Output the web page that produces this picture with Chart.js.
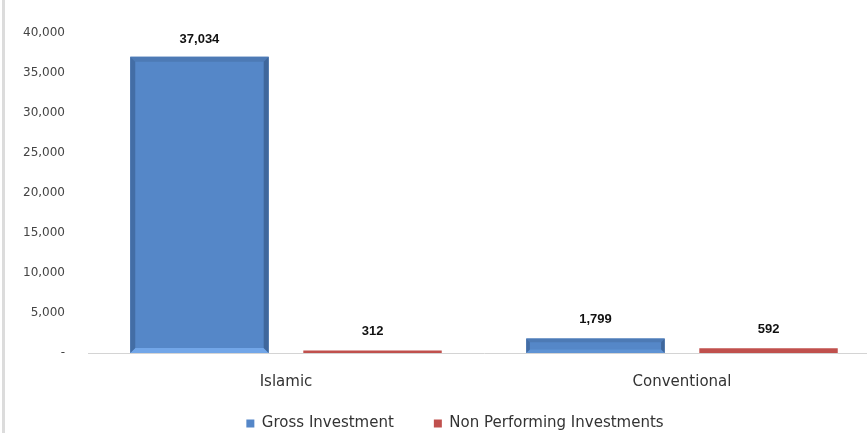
<!DOCTYPE html>
<html>
<head>
<meta charset="utf-8">
<script src="https://cdn.jsdelivr.net/npm/chart.js@4.4.1/dist/chart.umd.min.js"></script>
<style>
  html, body { margin: 0; padding: 0; background: #fff; overflow: hidden; width: 867px; height: 433px; }
  #wrap { position: relative; width: 880px; height: 433px; }
  #edge { position: absolute; left: 2px; top: 0; width: 3px; height: 433px; background: #dcdcdc; }
</style>
</head>
<body>
<div id="wrap">
  <canvas id="c" width="880" height="433"></canvas>
  <div id="edge"></div>
</div>
<script>
const categories = ["Islamic", "Conventional"];
const seriesNames = ["Gross Investment", "Non Performing Investments"];
const grossInvestment = [37034, 1799];
const nonPerforming = [312, 592];
const yTicks = [0, 5000, 10000, 15000, 20000, 25000, 30000, 35000, 40000];

const fmt = v => v.toLocaleString('en-US');
const LEGEND_PAD = 40;

const bevelPlugin = {
  id: 'bevel',
  afterDatasetsDraw(chart) {
    const ctx = chart.ctx;
    const meta = chart.getDatasetMeta(0);
    meta.data.forEach(el => {
      const p = el.getProps(['x', 'y', 'base', 'width'], true);
      const l = p.x - p.width / 2, r = p.x + p.width / 2, t = p.y, b = p.base;
      const h = b - t;
      const bw = Math.min(5, h / 4);
      ctx.save();
      const poly = (pts, col) => {
        ctx.beginPath();
        ctx.moveTo(pts[0][0], pts[0][1]);
        for (let i = 1; i < pts.length; i++) ctx.lineTo(pts[i][0], pts[i][1]);
        ctx.closePath();
        ctx.fillStyle = col;
        ctx.fill();
      };
      poly([[l, t], [r, t], [r - bw, t + bw], [l + bw, t + bw]], '#4d7ab5');
      poly([[l, b], [r, b], [r - bw, b - bw], [l + bw, b - bw]], h > 40 ? '#72a6e8' : '#5f93d4');
      poly([[l, t], [l + bw, t + bw], [l + bw, b - bw], [l, b]], '#436da5');
      poly([[r, t], [r - bw, t + bw], [r - bw, b - bw], [r, b]], '#3f679c');
      ctx.restore();
    });
  }
};

const labelPlugin = {
  id: 'valueLabels',
  afterDatasetsDraw(chart) {
    const ctx = chart.ctx;
    ctx.save();
    ctx.font = 'bold 13px "Liberation Sans", Arial, sans-serif';
    ctx.fillStyle = '#111';
    ctx.textAlign = 'center';
    ctx.textBaseline = 'middle';
    chart.data.datasets.forEach((ds, di) => {
      chart.getDatasetMeta(di).data.forEach((el, i) => {
        const h = el.base - el.y;
        ctx.fillText(fmt(ds.data[i]), el.x, el.y - (h > 100 ? 17 : 19));
      });
    });
    ctx.restore();
  }
};

const legendShift = {
  id: 'legendShift',
  afterLayout(chart) {
    const lg = chart.legend;
    if (!lg) return;
    const dy = 423 - (lg.top + LEGEND_PAD + 7);
    lg.left += 15; lg.right += 15;
    lg.top += dy; lg.bottom += dy;
  }
};

new Chart(document.getElementById('c'), {
  type: 'bar',
  data: {
    labels: categories,
    datasets: [
      { label: seriesNames[0], data: grossInvestment, backgroundColor: '#5587c8', borderWidth: 0 },
      { label: seriesNames[1], data: nonPerforming, backgroundColor: '#c0504d', borderWidth: 0 }
    ]
  },
  options: {
    responsive: false,
    animation: false,
    events: [],
    datasets: { bar: { categoryPercentage: 0.874, barPercentage: 0.80 } },
    layout: { padding: { top: 33, left: 0, right: 0, bottom: -33 } },
    plugins: {
      tooltip: { enabled: false },
      legend: {
        position: 'bottom',
        labels: {
          boxWidth: 8, boxHeight: 8, padding: LEGEND_PAD, color: '#333',
          font: { family: '"DejaVu Sans", sans-serif', size: 15 }
        }
      }
    },
    scales: {
      x: {
        grid: { display: false, drawTicks: false },
        border: { display: true, color: '#d4d4d4' },
        ticks: { padding: 20, color: '#333', font: { family: '"DejaVu Sans", sans-serif', size: 15 } },
        afterFit(s) { s.height = 48; }
      },
      y: {
        min: 0, max: 40000,
        afterBuildTicks(s) { s.ticks = yTicks.map(v => ({ value: v })); },
        grid: { display: false, drawTicks: false },
        border: { display: false },
        ticks: {
          padding: 23, color: '#444',
          font: { family: '"DejaVu Sans", sans-serif', size: 12 },
          callback: v => v === 0 ? '-' : fmt(v)
        },
        afterFit(s) { s.width = 88; }
      }
    }
  },
  plugins: [bevelPlugin, labelPlugin, legendShift]
});
</script>
</body>
</html>
